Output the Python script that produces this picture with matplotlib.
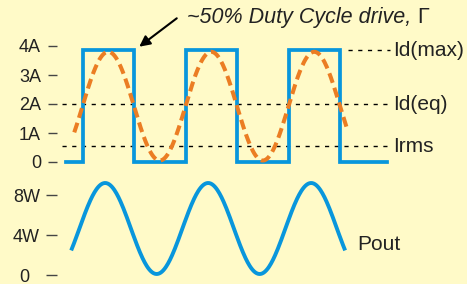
import matplotlib.pyplot as plt
import numpy as np

plt.rcParams['font.family'] = ['Liberation Sans', 'DejaVu Sans']

bg = '#fffac8'
blue = '#0896dc'
orange = '#eb7d23'

# square drive current (time in periods, level in A)
drive_t = [-0.16, 0, 0.5, 1, 1.5, 2, 2.5, 2.96]
drive_i = [0, 3.85, 0, 3.85, 0, 3.85, 0, 0]

# sinusoidal current (dashed)
cur_peak, cur_trough, cur_peak_t = 3.8, 0.05, 0.25
cur_start, cur_end = -0.08, 2.57

# output power
pout_peak, pout_trough, pout_peak_t = 9.2, 0.1, 0.22
pout_start, pout_end = -0.11, 2.55

top_ticks = [0, 1, 2, 3, 4]
top_labels = ['0', '1A', '2A', '3A', '4A']
bot_ticks = [0, 4, 8]
bot_labels = ['0  ', '4W', '8W']

levels = {'Id(max)': 3.85, 'Id(eq)': 2.0, 'Irms': 0.55}

fig = plt.figure(figsize=(4.67, 2.84), dpi=100)
fig.patch.set_facecolor(bg)

ax = fig.add_axes([0, 114/284, 1, 170/284])
ax2 = fig.add_axes([0, 0, 1, 114/284])

xlim = (-82.5/103, (467-82.5)/103)
ax.set_xlim(xlim)
ax.set_ylim(-8/29, 162/29)
ax2.set_xlim(xlim)
ax2.set_ylim(-0.9, 10.5)

for a in (ax, ax2):
    a.set_facecolor('none')
    for s in a.spines.values():
        s.set_visible(False)
    a.spines['left'].set_position(('data', -0.2476))
    a.set_xticks([])

ax.set_yticks(top_ticks, top_labels)
ax.tick_params(axis='y', direction='out', length=6.5, width=1, color='#444444',
               pad=5, labelsize=13, labelcolor='#222222')
ax2.set_yticks(bot_ticks, bot_labels)
ax2.tick_params(axis='y', direction='out', length=7.9, width=1, color='#444444',
                pad=4.3, labelsize=13, labelcolor='#222222')

# dotted reference levels
ax.plot([2.577, 2.985], [levels['Id(max)']] * 2, color='black', lw=1, ls=(0, (3, 4)))
ax.plot([-0.199, 2.985], [levels['Id(eq)']] * 2, color='black', lw=1, ls=(0, (3, 4)))
ax.plot([-0.199, 2.985], [levels['Irms']] * 2, color='black', lw=1, ls=(0, (3, 4)))
for name, v in levels.items():
    ax.text(3.016, v, name, fontsize=15, color='#222222', ha='left', va='center')

ax.step(drive_t, drive_i, where='post', color=blue, lw=2.7, solid_joinstyle='miter')

t = np.linspace(cur_start, cur_end, 400)
mid = (cur_peak + cur_trough) / 2
amp = (cur_peak - cur_trough) / 2
ax.plot(t, mid + amp * np.cos(2 * np.pi * (t - cur_peak_t)), color=orange, lw=2.9,
        ls=(0, (2.5, 1.3)))

t2 = np.linspace(pout_start, pout_end, 400)
mid2 = (pout_peak + pout_trough) / 2
amp2 = (pout_peak - pout_trough) / 2
ax2.plot(t2, mid2 + amp2 * np.cos(2 * np.pi * (t2 - pout_peak_t)), color=blue, lw=2.8,
         solid_capstyle='butt')
ax2.text(2.665, 3.0, 'Pout', fontsize=15, color='#222222', ha='left', va='center')

ax.annotate('', xy=(0.551, 3.976), xytext=(0.915, 4.955),
            arrowprops=dict(arrowstyle='-|>', color='black', lw=1.5, mutation_scale=16,
                            shrinkA=0, shrinkB=0))
title = ax.text(1.015, 4.966, '~50% Duty Cycle drive, ', fontsize=15.5, style='italic',
                color='#222222', ha='left', va='center')

# upright gamma right after the italic caption
fig.canvas.draw()
bb = title.get_window_extent()
x_end = ax.transData.inverted().transform((bb.x1, bb.y0))[0]
ax.text(x_end, 4.966, '\u0393', fontsize=15.5, color='#222222', ha='left', va='center')

fig.savefig('out.png', dpi=100, facecolor=bg)
